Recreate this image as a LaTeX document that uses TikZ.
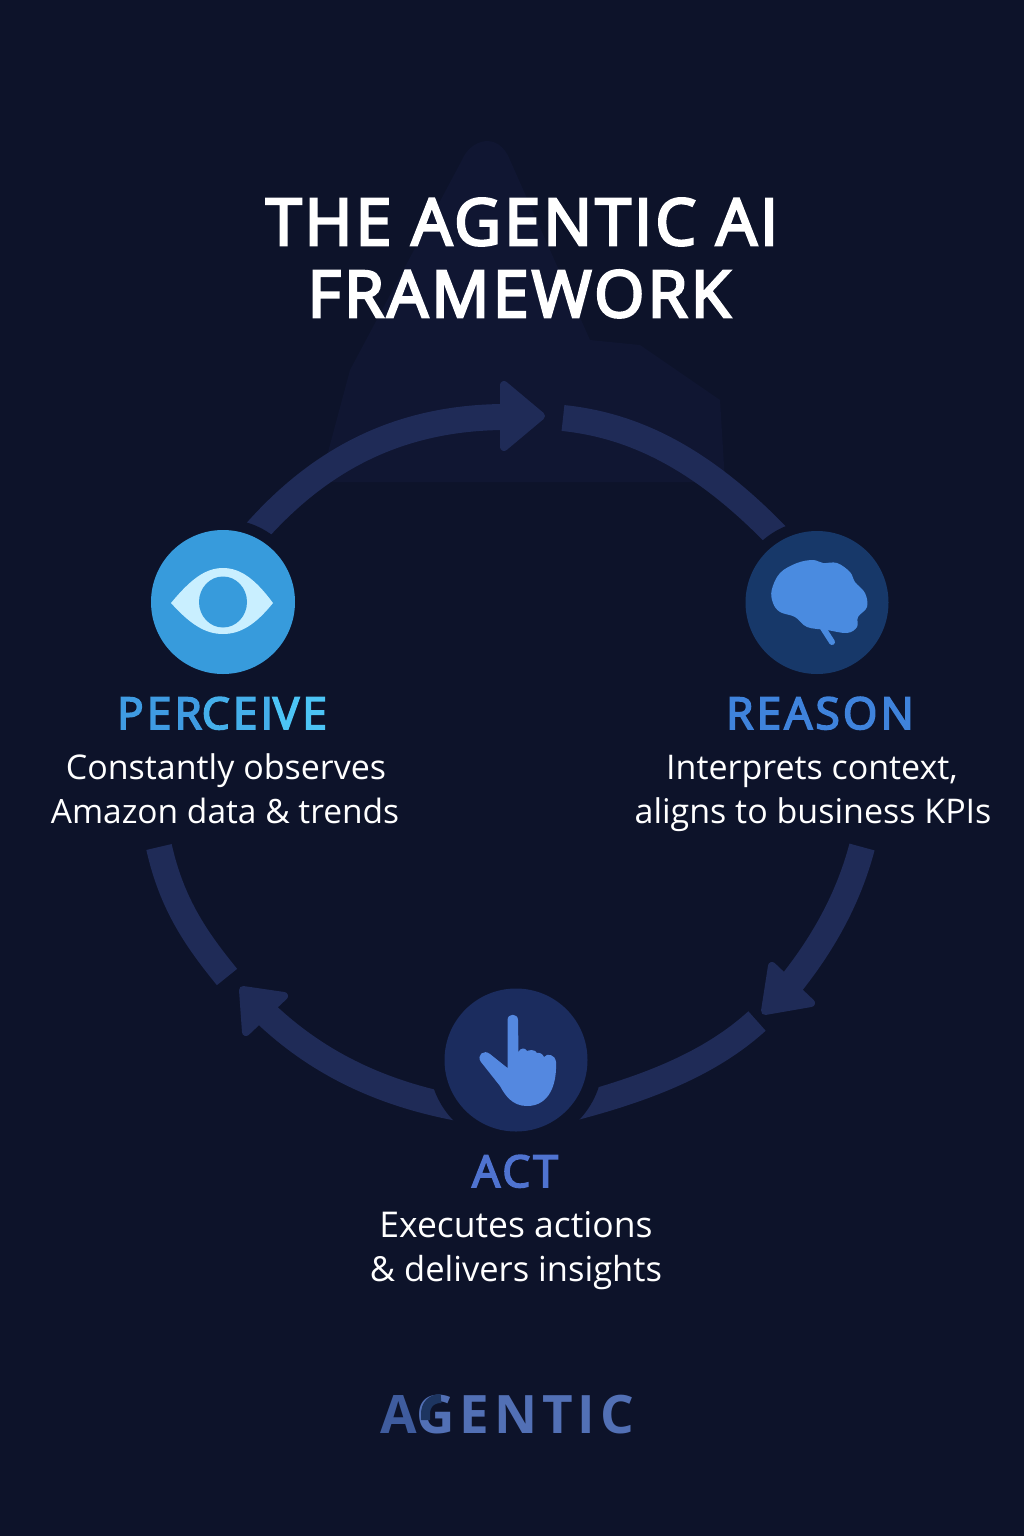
\documentclass[tikz,border=0pt]{standalone}
\usepackage{fontspec}
\setmainfont{Open Sans}
\newfontfamily\semi{Open Sans}[FakeBold=4]
\newfontfamily\semihead{Open Sans}[FakeBold=4]
\usetikzlibrary{backgrounds}
\definecolor{bgc}{HTML}{0D132A}
\definecolor{faintc}{HTML}{101632}
\definecolor{bandc}{HTML}{1F2B57}
\definecolor{perc}{HTML}{379BDC}
\definecolor{eyec}{HTML}{C9EFFF}
\definecolor{reac}{HTML}{173869}
\definecolor{brainc}{HTML}{4A8BE0}
\definecolor{actc}{HTML}{1B2C5E}
\definecolor{handc}{HTML}{5488E0}
\definecolor{headr}{HTML}{3F83DC}
\definecolor{heada}{HTML}{4F73D0}
\definecolor{logoc}{HTML}{5270B5}
\definecolor{logoa}{HTML}{3F5C9E}
\definecolor{logod}{HTML}{1D3560}
\tikzset{
  hub/.style={circle,inner sep=0pt,minimum size=#1},
  ringed/.style={preaction={draw=bgc,line width=#1}},
  band/.style={draw=bandc,line width=26pt,line cap=butt},
  headtip/.style={fill=bandc,draw=bandc,line width=8pt,line join=round},
  halo/.style={draw=bgc,line width=24pt,line join=round},
  titletext/.style={anchor=base,text=white,inner sep=0pt,font=\semi\fontsize{64.5}{70}\selectfont\addfontfeatures{LetterSpace=5}},
  headtext/.style={anchor=base,inner sep=0pt,font=\semihead\fontsize{44}{46}\selectfont\addfontfeatures{LetterSpace=7.5}},
  bodytext/.style={anchor=base,inner sep=0pt,text=white,font=\fontsize{34}{36}\selectfont},
  logotext/.style={anchor=base,inner sep=0pt,font=\bfseries\fontsize{53}{56}\selectfont\addfontfeatures{LetterSpace=9,Kerning=Off}}
}
\begin{document}
\begin{tikzpicture}[x=1pt,y=-1pt]
\useasboundingbox (0,0) rectangle (1024,1536);
% hubs
\node[hub=144pt,fill=perc,ringed=22pt] (perceive) at (223,602) {};
\node[hub=143pt,fill=reac,ringed=22pt] (reason) at (817,602.5) {};
\node[hub=143pt,fill=actc,ringed=31pt] (act) at (516,1060) {};
\coordinate (headA) at (503,417);
\coordinate (startB) at (563,418);
\coordinate (startC) at (862,847);
\coordinate (headC) at (790,985);
\coordinate (tipC) at (757,1021);
\coordinate (headD) at (266,1014);
\coordinate (startE) at (159,847);
\coordinate (tipD) at (227,977);
\begin{scope}[on background layer]
  \fill[bgc] (0,0) rectangle (1024,1536);
  \fill[faintc] (462,160) .. controls (470,140) and (498,130) .. (510,160)
     -- (590,340) -- (640,345) -- (720,400) -- (725,482) -- (320,482) -- (350,370) -- cycle;
  \draw[band] (tipC) .. controls (712,1062) and (650,1088) .. (act.-43);
  \draw[band] (startB) .. controls (630,425) and (700,455) .. (reason.120);
  \draw[band] (perceive.66) .. controls (320,458) and (400,418) .. (headA);
  \draw[band] (startE) .. controls (172,905) and (197,940) .. (tipD);
  \filldraw[halo] (243,990) -- (284,996) -- (246,1032) -- cycle;
  \filldraw[halo] (765,1011) -- (772,966) -- (811,1003) -- cycle;
  \draw[band] (act.223) .. controls (385,1095) and (320,1065) .. (headD);
  \draw[band] (startC) .. controls (848,900) and (822,945) .. (headC);
  \filldraw[headtip] (541,416) -- (504,385) -- (504,447) -- cycle;
  \filldraw[headtip] (243,990) -- (284,996) -- (246,1032) -- cycle;
  \filldraw[headtip] (765,1011) -- (772,966) -- (811,1003) -- cycle;
\end{scope}
% eye
\fill[eyec] (171,603) .. controls (190,580) and (205,568) .. (223,568)
  .. controls (241,568) and (256,580) .. (273,603)
  .. controls (256,624) and (241,634) .. (223,634)
  .. controls (205,634) and (190,624) .. (171,603) -- cycle;
\fill[perc] (223,602) ellipse [x radius=24,y radius=25.5];
% brain
\fill[brainc] plot[smooth cycle,tension=.6] coordinates {(771.7,590) (780,573) (797,563) (813,560) (823,563) (837,563) (850,572) (855,582) (865,593) (867,607) (858,617) (857,627) (847,633) (827,630) (807,627) (795,617) (780,612) (773,603)};
\draw[brainc,line width=6pt,line cap=round] (823,628) -- (832,642);
% hand
\fill[handc] (507.5,1020) .. controls (507.5,1013) and (518,1013) .. (518,1020)
  -- (518.5,1052) .. controls (520,1048) and (525,1047) .. (527,1051)
  .. controls (529,1050) and (535,1049) .. (537,1053)
  .. controls (539,1052) and (543,1054) .. (544,1057)
  .. controls (547,1053) and (555,1054) .. (556,1062)
  .. controls (557,1085) and (549,1106) .. (527,1106)
  .. controls (512,1106) and (505,1095) .. (500,1086)
  -- (481,1062) .. controls (476,1055) and (484,1049) .. (490,1054)
  -- (507.5,1068) -- cycle;
% texts
\node[titletext] (title1) at (522,245) {THE AGENTIC AI};
\node[titletext] (title2) at (519,317) {FRAMEWORK};
\node[headtext] (perceiveh) at (222,729) {\textcolor[HTML]{3F9BE2}{PER}\textcolor[HTML]{45AFEA}{CEI}\textcolor[HTML]{4CC4F5}{VE}};
\node[bodytext] (perceive1) at (226,779) {Constantly observes};
\node[bodytext,font=\fontsize{33.5}{36}\selectfont] (perceive2) at (225,823) {Amazon data \& trends};
\node[headtext,text=headr] (reasonh) at (820,729) {REASON};
\node[bodytext] (reason1) at (812,779) {Interprets context,};
\node[bodytext] (reason2) at (813,823) {aligns to business KPIs};
\node[headtext,text=heada] (acth) at (515,1187) {ACT};
\node[bodytext,font=\fontsize{35.5}{36}\selectfont] (act1) at (516,1237) {Executes actions};
\node[bodytext,font=\fontsize{34.5}{36}\selectfont] (act2) at (516,1281) {\& delivers insights};
\node[logotext,text=logoc] (logo) at (507,1433) {\textcolor{logoa}{A}GENTIC};
\draw[logod,line width=9pt] (441,1398.5) .. controls (431,1398.5) and (425.5,1405) .. (425.5,1414) -- (425.5,1420);
\end{tikzpicture}
\end{document}
